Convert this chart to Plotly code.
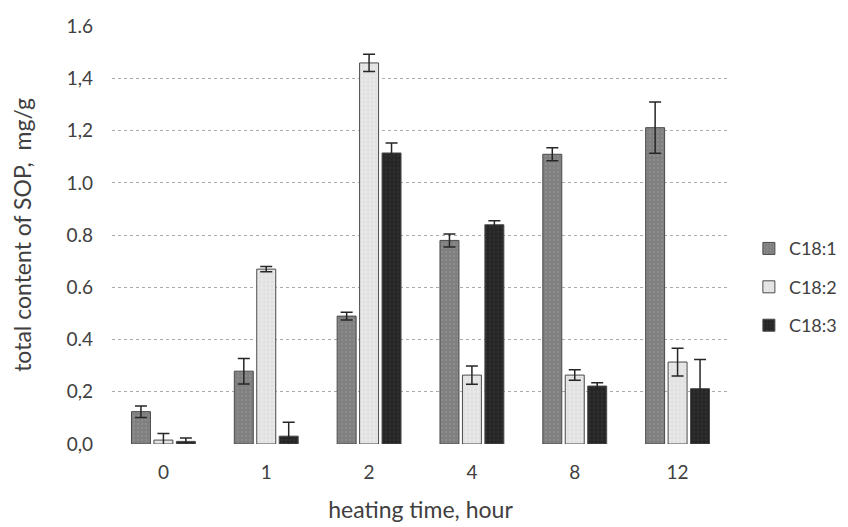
import plotly.graph_objects as go

categories = ["0", "1", "2", "4", "8", "12"]
c181 = [0.124, 0.279, 0.490, 0.780, 1.110, 1.212]
c181_err = [0.022, 0.049, 0.015, 0.025, 0.025, 0.098]
c182 = [0.015, 0.670, 1.460, 0.264, 0.264, 0.314]
c182_err = [0.025, 0.010, 0.033, 0.035, 0.020, 0.053]
c183 = [0.010, 0.030, 1.115, 0.840, 0.222, 0.212]
c183_err = [0.013, 0.053, 0.038, 0.015, 0.013, 0.112]

y_ticks = [0, 0.2, 0.4, 0.6, 0.8, 1.0, 1.2, 1.4, 1.6]
y_ticktext = ["0,0", "0,2", "0.4", "0.6", "0.8", "1.0", "1,2", "1,4", "1.6"]

series = [
    ("C18:1", c181, c181_err, "#7f7f7f", "#9a9a9a"),
    ("C18:2", c182, c182_err, "#e2e2e2", "#f4f4f4"),
    ("C18:3", c183, c183_err, "#262626", "#3a3a3a"),
]

fig = go.Figure()
for i, (name, vals, errs, col, pcol) in enumerate(series):
    fig.add_trace(go.Bar(
        x=categories, y=vals, name=name, legendgroup=name,
        marker=dict(color=col, line=dict(color="#4a4a4a", width=1),
                    pattern=dict(shape=".", fgcolor=pcol, bgcolor=col, size=4, solidity=0.25)),
        error_y=dict(type="data", array=errs, visible=True, color="#262626",
                     thickness=1.5, width=6),
    ))

font_family = "Lato, 'Open Sans', sans-serif"
fig.update_layout(
    width=840, height=519,
    margin=dict(l=104, r=119, t=18, b=83, autoexpand=False),
    paper_bgcolor="white", plot_bgcolor="white",
    barmode="group", bargap=0.345, bargroupgap=0.155,
    font=dict(family=font_family, size=19, color="#404040"),
    showlegend=True,
    legend=dict(xref="container", yref="container", x=0.882, y=0.462,
                xanchor="left", yanchor="middle",
                font=dict(size=18, color="#404040"), tracegroupgap=12,
                itemwidth=30),
    xaxis=dict(type="category", showline=False, showgrid=False, ticks="",
               ticklabelstandoff=15, automargin=False,
               tickfont=dict(size=19, color="#404040"),
               title=dict(text="heating time, hour", standoff=19,
                          font=dict(size=23, color="#404040"))),
    yaxis=dict(range=[0, 1.6015], tickvals=y_ticks, ticktext=y_ticktext,
               showgrid=True, gridcolor="#ababab", griddash="dot", gridwidth=1,
               zeroline=False, showline=False, ticks="", ticklabelstandoff=18,
               automargin=False,
               tickfont=dict(size=19, color="#404040"),
               title=dict(text="total content of SOP,  mg/g", standoff=29,
                          font=dict(size=23, color="#404040"))),
)

fig.write_html("out.html")
